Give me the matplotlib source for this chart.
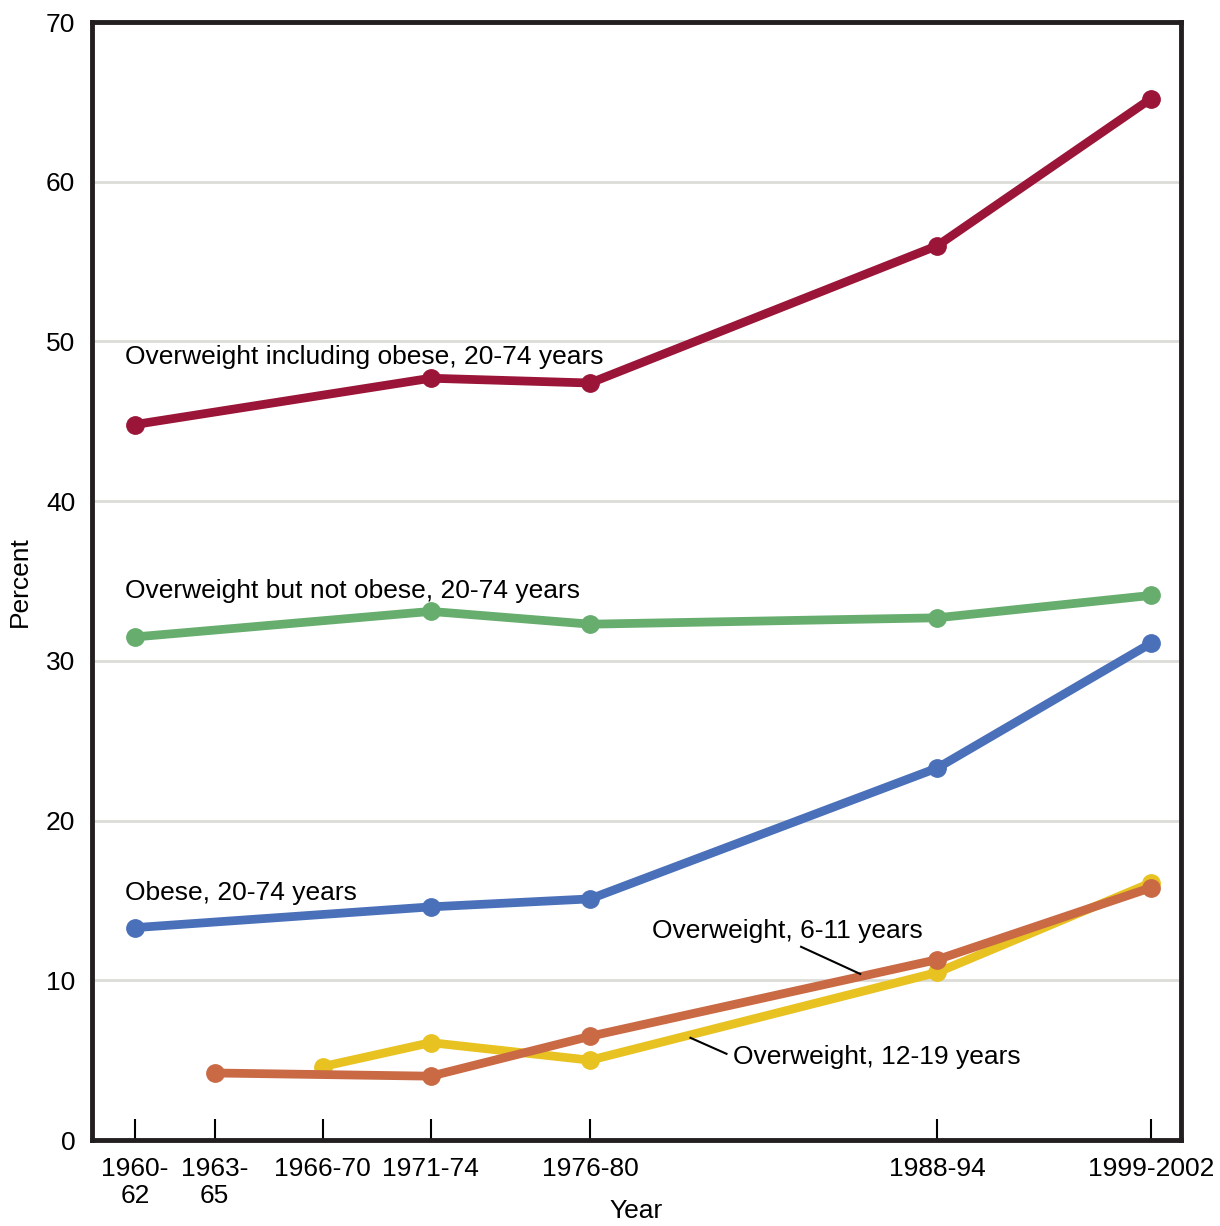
import numpy as np
import matplotlib.pyplot as plt

plt.rcParams['font.family'] = ['Liberation Sans', 'DejaVu Sans']

periods = ["1960-\n62", "1963-\n65", "1966-70", "1971-74", "1976-80", "1988-94", "1999-2002"]
xpos = [1961, 1964.1, 1968.3, 1972.5, 1978.7, 1992.2, 2000.5]

overweight_incl_obese = [44.8, 47.7, 47.4, 56.0, 65.2]
overweight_not_obese = [31.5, 33.1, 32.3, 32.7, 34.1]
obese = [13.3, 14.6, 15.1, 23.3, 31.1]
adult_idx = [0, 3, 4, 5, 6]

ow_12_19 = [4.6, 6.1, 5.0, 10.5, 16.1]
teen_idx = [2, 3, 4, 5, 6]
ow_6_11 = [4.2, 4.0, 6.5, 11.3, 15.8]
child_idx = [1, 3, 4, 5, 6]

fig = plt.figure(figsize=(12.2, 12.26), dpi=100)
ax = fig.add_axes([0.0754, 0.0701, 0.8926, 0.9119])

def draw(idx, vals, color):
    xs = [xpos[i] for i in idx]
    ax.plot(xs, vals, color=color, lw=6.3, marker='o', ms=12.5,
            solid_capstyle='round', solid_joinstyle='round', zorder=3)

draw(adult_idx, overweight_incl_obese, '#9B1538')
draw(adult_idx, overweight_not_obese, '#66AD6E')
draw(adult_idx, obese, '#4A70BA')
draw(teen_idx, ow_12_19, '#E8C220')
draw(child_idx, ow_6_11, '#C96A45')

fs = 19
ax.set_xlim(1959.33, 2001.67)
ax.set_ylim(0, 70)
ax.set_yticks(range(0, 71, 10))
ax.set_xticks(xpos)
ax.set_xticklabels(periods, fontsize=fs, linespacing=1.15)
ax.tick_params(axis='x', direction='in', length=15, width=1.5, pad=12)
ax.tick_params(axis='y', length=0, labelsize=fs, pad=12)
ax.yaxis.grid(True, color='#DCDCD8', lw=2)
ax.set_axisbelow(True)
for s in ax.spines.values():
    s.set_linewidth(3.5)
    s.set_color('#231F20')

ax.set_ylabel("Percent", fontsize=fs, labelpad=10)
ax.set_xlabel("Year", fontsize=fs, labelpad=-6)

ax.text(1960.6, 49.0, "Overweight including obese, 20-74 years", fontsize=fs, va='center')
ax.text(1960.6, 34.4, "Overweight but not obese, 20-74 years", fontsize=fs, va='center')
ax.text(1960.6, 15.5, "Obese, 20-74 years", fontsize=fs, va='center')
ax.text(1981.1, 13.1, "Overweight, 6-11 years", fontsize=fs, va='center')
ax.text(1984.25, 5.2, "Overweight, 12-19 years", fontsize=fs, va='center')

ax.plot([1986.9, 1989.2], [12.1, 10.4], color='black', lw=1.5, zorder=4)
ax.plot([1982.6, 1984.0], [6.4, 5.4], color='black', lw=1.5, zorder=4)

fig.savefig("out.png", dpi=100)
